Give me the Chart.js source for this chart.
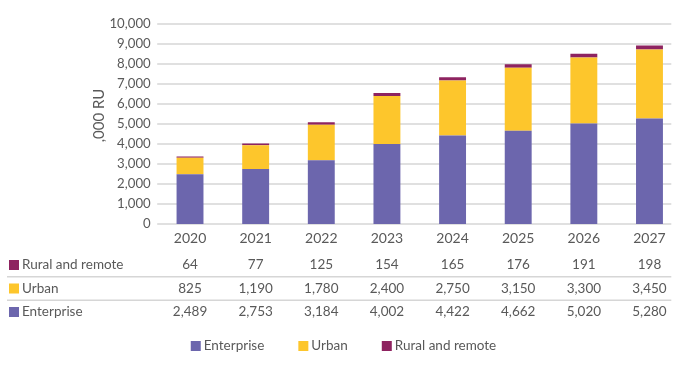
<!DOCTYPE html>
<html><head><meta charset="utf-8">
<script src="https://cdn.jsdelivr.net/npm/chart.js@4/dist/chart.umd.min.js"></script>
<style>
html,body{margin:0;padding:0;overflow:hidden;background:#fff;width:676px;height:368px}
#wrap{width:684px;height:368px}
canvas{display:block}
</style>
</head><body><div id="wrap"><canvas id="c" width="684" height="368"></canvas></div>
<script>
const years = ['2020','2021','2022','2023','2024','2025','2026','2027'];
const enterprise = [2489, 2753, 3184, 4002, 4422, 4662, 5020, 5280];
const urban = [825, 1190, 1780, 2400, 2750, 3150, 3300, 3450];
const rural = [64, 77, 125, 154, 165, 176, 191, 198];
const seriesNames = ['Enterprise', 'Urban', 'Rural and remote'];
const seriesColors = ['#6C66AD', '#FDC62C', '#8E2360'];
const yAxisTitle = ',000 RU';
const yMin = 0, yMax = 10000, yStep = 1000;

const FONT = 'Lato';
const TEXT = '#595959';
const GRID = '#d6d6d6';
const fmt = v => v.toLocaleString('en-US');

const tableRows = [
  {name: seriesNames[2], values: rural, color: seriesColors[2]},
  {name: seriesNames[1], values: urban, color: seriesColors[1]},
  {name: seriesNames[0], values: enterprise, color: seriesColors[0]}
];

const extras = {
  id: 'extras',
  beforeDatasetsDraw(chart) {
    const ctx = chart.ctx, y = chart.scales.y, area = chart.chartArea;
    ctx.save();
    ctx.strokeStyle = GRID;
    ctx.lineWidth = 1.5;
    y.ticks.forEach(t => {
      const py = y.getPixelForValue(t.value);
      ctx.beginPath();
      ctx.moveTo(area.left, py);
      ctx.lineTo(area.right - 11, py);
      ctx.stroke();
    });
    ctx.restore();
  },
  afterDraw(chart) {
    const ctx = chart.ctx, x = chart.scales.x, y = chart.scales.y, area = chart.chartArea;
    ctx.save();
    ctx.fillStyle = TEXT;
    ctx.textBaseline = 'middle';
    // y tick labels
    ctx.font = '13.2px ' + FONT;
    ctx.textAlign = 'right';
    y.ticks.forEach(t => {
      ctx.fillText(fmt(t.value), area.left - 6.5, y.getPixelForValue(t.value));
    });
    // x category labels
    ctx.font = '14px ' + FONT;
    ctx.textAlign = 'center';
    years.forEach((lab, j) => ctx.fillText(lab, x.getPixelForValue(j), 238));

    // y axis title
    ctx.font = '15px ' + FONT;
    ctx.textAlign = 'center';
    ctx.translate(99, 115.5);
    ctx.rotate(-Math.PI / 2);
    ctx.fillText(yAxisTitle, 0, 0);
    ctx.setTransform(1, 0, 0, 1, 0, 0);

    // table
    const rowTop = 265, rowH = 23.5;
    ctx.font = '13.5px ' + FONT;
    tableRows.forEach((r, i) => {
      const cy = rowTop + i * rowH;
      ctx.fillStyle = r.color;
      ctx.fillRect(9, cy - 5, 10, 10);
      ctx.fillStyle = TEXT;
      ctx.textAlign = 'left';
      ctx.fillText(r.name, 22, cy);
      ctx.textAlign = 'center';
      r.values.forEach((v, j) => {
        ctx.fillText(fmt(v), x.getPixelForValue(j), cy);
      });
      if (i < tableRows.length - 1) {
        ctx.strokeStyle = GRID;
        ctx.lineWidth = 1.5;
        ctx.beginPath();
        ctx.moveTo(7, cy + rowH / 2);
        ctx.lineTo(area.right - 11, cy + rowH / 2);
        ctx.stroke();
      }
    });

    // legend
    const ly = 346, box = 10, gapBox = 3, gapItem = 34, center = 343.5;
    const widths = seriesNames.map(n => ctx.measureText(n).width);
    const total = widths.reduce((a, w) => a + box + gapBox + w, 0) + gapItem * (seriesNames.length - 1);
    let lx = center - total / 2;
    ctx.textAlign = 'left';
    seriesNames.forEach((n, i) => {
      ctx.fillStyle = seriesColors[i];
      ctx.fillRect(lx, ly - 5, box, box);
      ctx.fillStyle = TEXT;
      ctx.fillText(n, lx + box + gapBox, ly);
      lx += box + gapBox + widths[i] + gapItem;
    });
    ctx.restore();
  }
};

new Chart(document.getElementById('c'), {
  type: 'bar',
  data: {
    labels: years,
    datasets: [
      {label: seriesNames[0], data: enterprise, backgroundColor: seriesColors[0]},
      {label: seriesNames[1], data: urban, backgroundColor: seriesColors[1]},
      {label: seriesNames[2], data: rural, backgroundColor: seriesColors[2]}
    ]
  },
  options: {
    responsive: false,
    animation: false,
    devicePixelRatio: 1,
    layout: {padding: {top: 24, right: 1.7, left: 0, bottom: 0}},
    datasets: {bar: {categoryPercentage: 1, barPercentage: 0.41, borderWidth: 0}},
    plugins: {legend: {display: false}, tooltip: {enabled: false}},
    scales: {
      x: {
        stacked: true,
        grid: {display: false},
        border: {display: false},
        ticks: {display: false},
        afterFit(s) { s.height = 144; }
      },
      y: {
        stacked: true,
        min: yMin, max: yMax,
        grid: {display: false},
        border: {display: false},
        ticks: {display: false, stepSize: yStep},
        afterFit(s) { s.width = 157.2; }
      }
    }
  },
  plugins: [extras]
});
</script>
</body></html>
